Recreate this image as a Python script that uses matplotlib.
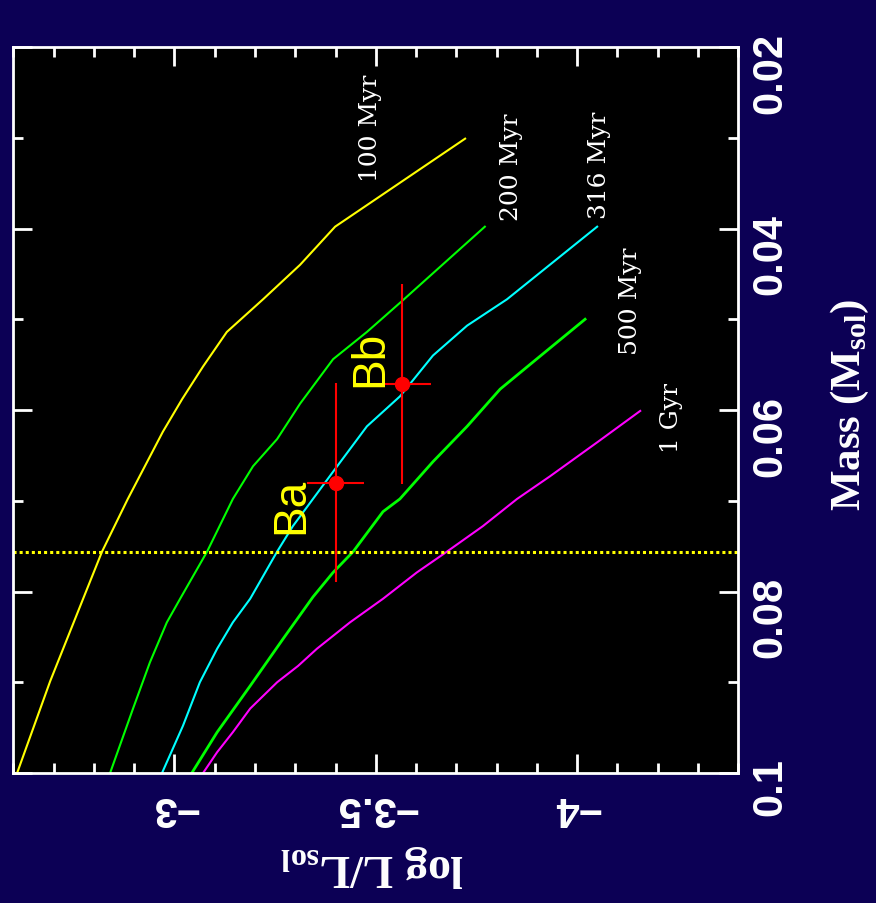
import matplotlib.pyplot as plt
from matplotlib.ticker import MultipleLocator

# isochrones: log L/Lsol vs mass (Msol)
L_100 = [-2.609, -2.691, -2.773, -2.820, -2.884, -2.971, -3.019, -3.071, -3.130, -3.220, -3.312, -3.399, -3.722]
M_100 = [0.1000, 0.0899, 0.0808, 0.0756, 0.0698, 0.0624, 0.0588, 0.0552, 0.0514, 0.0478, 0.0440, 0.0398, 0.0301]

L_200 = [-2.840, -2.897, -2.939, -2.981, -3.014, -3.081, -3.145, -3.195, -3.255, -3.312, -3.394, -3.478, -3.565, -3.771]
M_200 = [0.1000, 0.0929, 0.0878, 0.0834, 0.0808, 0.0756, 0.0698, 0.0662, 0.0632, 0.0593, 0.0544, 0.0514, 0.0480, 0.0398]

L_316 = [-2.969, -3.021, -3.063, -3.106, -3.145, -3.188, -3.255, -3.294, -3.394, -3.478, -3.560, -3.642, -3.727, -3.826, -4.050]
M_316 = [0.1000, 0.0948, 0.0900, 0.0863, 0.0834, 0.0808, 0.0756, 0.0728, 0.0668, 0.0618, 0.0585, 0.0540, 0.0507, 0.0478, 0.0398]

L_500 = [-3.043, -3.106, -3.188, -3.270, -3.344, -3.394, -3.444, -3.518, -3.560, -3.642, -3.727, -3.809, -3.891, -4.020]
M_500 = [0.1000, 0.0955, 0.0904, 0.0852, 0.0806, 0.0779, 0.0756, 0.0712, 0.0698, 0.0657, 0.0618, 0.0577, 0.0547, 0.0500]

L_1000 = [-3.071, -3.106, -3.145, -3.188, -3.255, -3.307, -3.354, -3.436, -3.518, -3.602, -3.677, -3.766, -3.851, -3.933, -4.052, -4.157]
M_1000 = [0.1000, 0.0977, 0.0955, 0.0929, 0.0900, 0.0882, 0.0863, 0.0834, 0.0808, 0.0779, 0.0756, 0.0728, 0.0698, 0.0673, 0.0635, 0.0601]

# hydrogen burning limit
m_hbl = 0.0757

# the two components
comp_names = ["Ba", "Bb"]
comp_L = [-3.40, -3.566]
comp_M = [0.0680, 0.0571]
comp_Lerr = [0.071, 0.072]
comp_Merr = [0.011, 0.011]

age_labels = ["100 Myr", "200 Myr", "316 Myr", "500 Myr", "1 Gyr"]
age_L = [-3.486, -3.836, -4.055, -4.132, -4.234]
age_M = [0.0289, 0.0331, 0.0329, 0.0479, 0.0608]

comp_lab_L = [-3.289, -3.486]
comp_lab_M = [0.0705, 0.0543]

xticks = [-3, -3.5, -4]
xticklabels = ["\u22123", "\u22123.5", "\u22124"]
yticks = [0.02, 0.04, 0.06, 0.08, 0.1]
yticklabels = ["0.02", "0.04", "0.06", "0.08", "0.1"]

bg = "#0c0055"
plt.rcParams['mathtext.fontset'] = 'custom'
plt.rcParams['mathtext.rm'] = 'Liberation Serif:bold'

fig = plt.figure(figsize=(8.76, 9.04), dpi=100, facecolor=bg)
ax = fig.add_axes([0.0154, 0.1438, 0.8271, 0.8031], facecolor="black")

ax.plot(L_100, M_100, color="#ffff00", lw=1.5)
ax.plot(L_200, M_200, color="#00ff00", lw=1.5)
ax.plot(L_316, M_316, color="#00ffff", lw=1.5)
ax.plot(L_500, M_500, color="#00ff00", lw=2)
ax.plot(L_1000, M_1000, color="#ff00ff", lw=1.5)

ax.axhline(m_hbl, color="#ffff00", lw=2.2, ls=(0, (1, 1)))

ax.errorbar(comp_L, comp_M, xerr=comp_Lerr, yerr=comp_Merr, fmt="o",
            color="#ff0000", ms=10, elinewidth=1.5, capsize=0)

for txt, x, y in zip(age_labels, age_L, age_M):
    ax.text(x, y, txt, color="white", fontsize=18, family="DejaVu Serif",
            rotation=90, ha="center", va="center")

for txt, x, y in zip(comp_names, comp_lab_L, comp_lab_M):
    ax.text(x, y, txt, color="#ffff00", fontsize=33, family="Liberation Sans",
            rotation=90, ha="center", va="center")

ax.set_xlim(-2.6, -4.4)
ax.set_ylim(0.1, 0.02)
ax.set_xticks(xticks, xticklabels)
ax.set_yticks(yticks, yticklabels)
ax.xaxis.set_minor_locator(MultipleLocator(0.1))
ax.yaxis.set_minor_locator(MultipleLocator(0.01))

for sp in ax.spines.values():
    sp.set_color("white")
    sp.set_linewidth(2)

ax.tick_params(which="both", direction="in", color="white", width=2,
               top=True, bottom=True, left=True, right=True,
               labelleft=False, labelright=True, labelbottom=True)
ax.tick_params(which="major", length=14)
ax.tick_params(which="minor", length=7)
ax.tick_params(axis="y", labelrotation=90, pad=9)
ax.tick_params(axis="x", labelrotation=180, pad=10)
for lab in ax.get_xticklabels() + ax.get_yticklabels():
    lab.set_color("white")
    lab.set_fontsize(30)
    lab.set_family("Liberation Sans")
    lab.set_fontweight("bold")

fig.text(850 / 876, 1 - 405 / 904, r"Mass (M$_{\rm sol}$)", color="white",
         fontsize=31, family="Liberation Serif", weight="bold",
         rotation=90, ha="center", va="center")
fig.text(372 / 876, 1 - 866 / 904, r"log L/L$_{\rm sol}$", color="white",
         fontsize=33, family="Liberation Serif", weight="bold",
         rotation=180, ha="center", va="center")

fig.savefig("out.png", dpi=100, facecolor=bg)
